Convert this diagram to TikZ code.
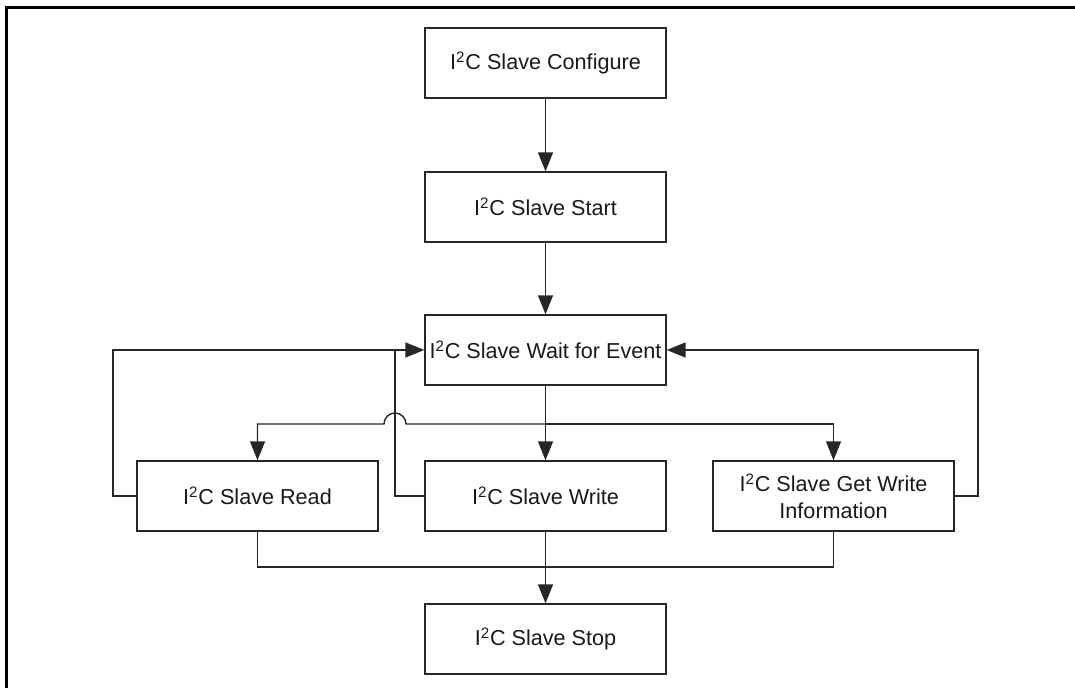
\documentclass[tikz,border=0pt]{standalone}
\usepackage{fontspec}
\setmainfont{Liberation Sans}
\usetikzlibrary{arrows.meta}
\begin{document}
\begin{tikzpicture}[x=0.02cm,y=-0.02cm,
  box/.style={draw=black!85,line width=0.8pt,minimum width=4.82cm,minimum height=1.4cm,inner sep=0pt,align=center,font=\fontsize{12.3}{15}\selectfont,text=black!90},
  wire/.style={draw=black!85,line width=0.8pt},
  arr/.style={wire,-{Triangle[length=0.38cm,width=0.3cm]}}]
\useasboundingbox (0,0) rectangle (1075,688);
\draw[line width=1.4pt] (6.5,688) -- (6.5,7.5) -- (1075,7.5);
\node[box] (cfg) at (545.5,63) {I\textsuperscript{2}C Slave Configure};
\node[box] (start) at (545.5,207) {I\textsuperscript{2}C Slave Start};
\node[box] (wait) at (545.5,350) {I\textsuperscript{2}C Slave Wait for Event};
\node[box] (read) at (257.5,496) {I\textsuperscript{2}C Slave Read};
\node[box] (write) at (545.5,496) {I\textsuperscript{2}C Slave Write};
\node[box] (gw) at (833.5,496) {I\textsuperscript{2}C Slave Get Write\\Information};
\node[box] (stop) at (545.5,639) {I\textsuperscript{2}C Slave Stop};
\coordinate (j) at (545.5,424);
\coordinate (wl) at (395,350);
\coordinate (bl) at (257.5,567);
\draw[arr] (cfg) -- (start);
\draw[arr] (start) -- (wait);
\draw[arr] (wait) -- (write);
\draw[arr] (j) -| (gw.north);
\draw[arr] (j) -- (406,424) arc[start angle=0,end angle=180,radius=0.22cm] -| (read.north);
\draw[arr] (read.west) -- (113,496) |- (wait.west);
\draw[wire] (write.west) -| (wl);
\draw[arr] (gw.east) -- (978,496) |- (wait.east);
\draw[wire] (read.south) -- (bl) -| (gw.south);
\draw[arr] (write.south) -- (stop.north);
\end{tikzpicture}
\end{document}
